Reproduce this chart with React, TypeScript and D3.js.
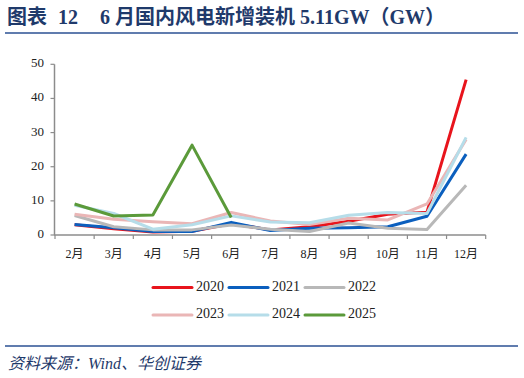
import React from "react";
import * as d3 from "d3";

const months = ["2月", "3月", "4月", "5月", "6月", "7月", "8月", "9月", "10月", "11月", "12月"];
const years = ["2020", "2021", "2022", "2023", "2024", "2025"];
const s2020 = [3.0, 1.8, 0.9, 1.1, 3.3, 1.5, 2.4, 4.0, 6.1, 6.7, 45.5];
const s2021 = [3.1, 2.1, 1.0, 1.0, 3.7, 1.3, 2.0, 2.1, 2.4, 5.5, 23.7];
const s2022 = [5.7, 2.4, 1.5, 1.5, 2.9, 1.7, 1.0, 3.5, 2.0, 1.6, 14.6];
const s2023 = [6.1, 4.6, 3.9, 3.3, 6.6, 4.1, 3.1, 4.9, 4.4, 9.1, 28.0];
const s2024 = [8.7, 6.3, 1.7, 3.0, 5.6, 3.8, 3.6, 5.8, 6.6, 6.3, 28.6];
const s2025 = [9.07, 5.55, 5.86, 26.32, 5.11];
const yTicks = [0, 10, 20, 30, 40, 50];
const colors = ["#e8141c", "#0b5fbe", "#b8b8b8", "#eab6b6", "#b6dde9", "#5b9a3a"];
const seriesList = [s2020, s2021, s2022, s2023, s2024, s2025];

const serif = "'Times New Roman', 'Liberation Serif', 'Noto Sans CJK SC', serif";

export default function App() {
  const x = d3.scaleBand<string>().domain(months).range([55, 485.7]);
  const y = d3.scaleLinear().domain([0, 50]).range([235, 64.3]);
  const line = d3
    .line<number>()
    .x((_, i) => (x(months[i]) as number) + x.bandwidth() / 2)
    .y((d) => y(d));
  const boundaries = months.map((m) => x(m) as number).concat([x.range()[1]]);
  const legendItems = years.map((yr, i) => ({
    yr,
    color: colors[i],
    lx: 153 + (i % 3) * 76,
    ly: i < 3 ? 287.5 : 315,
  }));
  return (
    <svg width={524} height={378} style={{ position: "absolute", left: 0, top: 0 }}>
      <rect width={524} height={378} fill="#fff" />
      <text x={7} y={24} fontFamily={serif} fontWeight="bold" fontSize={20} fill="#1f3a6b">
        图表
      </text>
      <text x={58} y={24} fontFamily={serif} fontWeight="bold" fontSize={20} fill="#1f3a6b">
        12
      </text>
      <text x={100} y={24} fontFamily={serif} fontWeight="bold" fontSize={20} fill="#1f3a6b">
        6 月国内风电新增装机 5.11GW（GW）
      </text>
      <line x1={5} x2={518} y1={33} y2={33} stroke="#2b5193" strokeWidth={1.5} />

      {/* y axis */}
      <line x1={54.5} x2={54.5} y1={y(50)} y2={y(0)} stroke="#8c8c8c" strokeWidth={1.5} />
      {yTicks.map((t) => (
        <g key={t}>
          <line x1={50.5} x2={54.5} y1={y(t)} y2={y(t)} stroke="#8c8c8c" strokeWidth={1.2} />
          <text
            x={44}
            y={y(t)}
            textAnchor="end"
            dominantBaseline="middle"
            fontFamily={serif}
            fontSize={13}
            fill="#222"
          >
            {t}
          </text>
        </g>
      ))}
      {/* x axis */}
      <line x1={54} x2={x.range()[1]} y1={y(0)} y2={y(0)} stroke="#8c8c8c" strokeWidth={1.5} />
      {boundaries.map((b, i) => (
        <line key={i} x1={b} x2={b} y1={y(0)} y2={y(0) + 4} stroke="#8c8c8c" strokeWidth={1.2} />
      ))}
      {months.map((m) => (
        <text
          key={m}
          x={(x(m) as number) + x.bandwidth() / 2}
          y={258}
          textAnchor="middle"
          fontFamily={serif}
          fontSize={12}
          fill="#222"
        >
          {m}
        </text>
      ))}

      {seriesList.map((s, i) => (
        <path
          key={years[i]}
          d={line(s) || ""}
          fill="none"
          stroke={colors[i]}
          strokeWidth={3}
          strokeLinejoin="round"
        />
      ))}

      {legendItems.map((it) => (
        <g key={it.yr}>
          <line
            x1={it.lx}
            x2={it.lx + 39}
            y1={it.ly}
            y2={it.ly}
            stroke={it.color}
            strokeWidth={3}
            strokeLinecap="round"
          />
          <text
            x={it.lx + 43}
            y={it.ly}
            dominantBaseline="middle"
            fontFamily={serif}
            fontSize={14}
            fill="#222"
          >
            {it.yr}
          </text>
        </g>
      ))}

      <line x1={5} x2={518} y1={346} y2={346} stroke="#2b5193" strokeWidth={1.5} />
      <text x={8} y={369} fontFamily={serif} fontStyle="italic" fontSize={16} fill="#1f3a6b">
        资料来源：Wind、华创证券
      </text>
    </svg>
  );
}
